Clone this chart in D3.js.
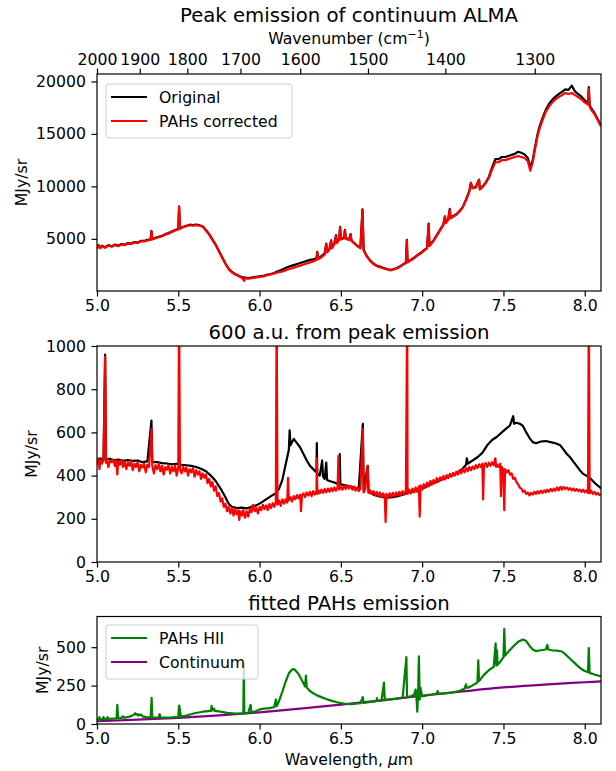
<!DOCTYPE html>
<html><head><meta charset="utf-8">
<script src="https://cdn.jsdelivr.net/npm/d3@7"></script>
<style>body{margin:0;background:#fff}svg{display:block}text{font-family:"DejaVu Sans",sans-serif;fill:#000}</style>
</head><body><svg id="c" width="616" height="771"></svg>
<script>
// ---------- DATA (wavelength µm, MJy/sr) ----------
const xTicks=[5.0,5.5,6.0,6.5,7.0,7.5,8.0];
const wavenumberTicks=[2000,1900,1800,1700,1600,1500,1400,1300];
const y1Ticks=[5000,10000,15000,20000];
const y2Ticks=[0,200,400,600,800,1000];
const y3Ticks=[0,250,500];
const titles=["Peak emission of continuum ALMA","600 a.u. from peak emission","fitted PAHs emission"];
const legend1=["Original","PAHs corrected"];
const legend3=["PAHs HII","Continuum"];

const original1=[[5.00,4100],[5.01,4400],[5.02,4150],[5.03,4350],[5.05,4200],[5.07,4400],[5.09,4300],[5.11,4450],[5.13,4350],[5.15,4500],[5.17,4450],[5.19,4600],[5.21,4550],[5.23,4700],[5.25,4650],[5.27,4800],[5.29,4800],[5.31,4900],[5.33,4950],[5.335,5750],[5.34,5000],[5.36,5100],[5.38,5200],[5.40,5300],[5.42,5450],[5.44,5550],[5.46,5700],[5.48,5850],[5.50,5950],[5.505,8100],[5.51,6000],[5.53,6150],[5.55,6250],[5.57,6350],[5.59,6300],[5.61,6350],[5.63,6300],[5.65,6200],[5.67,5850],[5.69,5450],[5.71,4950],[5.73,4450],[5.75,3850],[5.77,3250],[5.79,2650],[5.81,2150],[5.83,1850],[5.85,1650],[5.87,1500],[5.89,1350],[5.91,1300],[5.93,1250],[5.95,1300],[5.97,1350],[5.99,1400],[6.01,1450],[6.03,1500],[6.05,1600],[6.07,1650],[6.09,1750],[6.11,1900],[6.13,2000],[6.15,2150],[6.17,2300],[6.19,2400],[6.21,2500],[6.23,2600],[6.25,2700],[6.27,2800],[6.29,2900],[6.31,3000],[6.33,3050],[6.35,3150],[6.355,3750],[6.36,3150],[6.38,3350],[6.40,3600],[6.41,4550],[6.415,3750],[6.43,4050],[6.44,4850],[6.445,4150],[6.46,4550],[6.47,5350],[6.475,4650],[6.49,4950],[6.495,6150],[6.50,5000],[6.52,5100],[6.525,5850],[6.53,5050],[6.55,4950],[6.56,5450],[6.565,4850],[6.58,4650],[6.60,4350],[6.62,4150],[6.633,7800],[6.64,3950],[6.66,3350],[6.68,2950],[6.70,2650],[6.72,2450],[6.74,2350],[6.76,2250],[6.78,2150],[6.80,2050],[6.82,2100],[6.84,2200],[6.86,2350],[6.88,2550],[6.90,2750],[6.906,4900],[6.91,2800],[6.93,3000],[6.95,3200],[6.97,3450],[6.99,3650],[7.01,3900],[7.03,4150],[7.04,6450],[7.045,4350],[7.07,4850],[7.09,5350],[7.11,5850],[7.13,6350],[7.14,7150],[7.145,6550],[7.16,6850],[7.17,7850],[7.175,7000],[7.19,7150],[7.21,7350],[7.23,7650],[7.25,8050],[7.27,8750],[7.29,9550],[7.30,10350],[7.31,9850],[7.33,9950],[7.35,10650],[7.355,9750],[7.37,9950],[7.39,10350],[7.41,10900],[7.43,11800],[7.45,12600],[7.47,12600],[7.49,12800],[7.51,12800],[7.53,12900],[7.55,13000],[7.57,13100],[7.59,13300],[7.61,13200],[7.63,13050],[7.65,12700],[7.665,11800],[7.68,12500],[7.69,13400],[7.70,14200],[7.71,15000],[7.72,15600],[7.74,16500],[7.76,17300],[7.78,17850],[7.80,18250],[7.82,18550],[7.84,18800],[7.86,19000],[7.88,19250],[7.90,19200],[7.92,19600],[7.94,19050],[7.96,18800],[7.98,18550],[8.00,18200],[8.02,17950],[8.025,19450],[8.03,17750],[8.04,17450],[8.06,17000],[8.08,16400],[8.10,15800]];
const corrected1=[[5.00,4050],[5.01,4350],[5.02,4100],[5.03,4300],[5.05,4150],[5.07,4350],[5.09,4250],[5.11,4400],[5.13,4300],[5.15,4450],[5.17,4400],[5.19,4550],[5.21,4500],[5.23,4650],[5.25,4600],[5.27,4750],[5.29,4750],[5.31,4850],[5.33,4900],[5.335,5700],[5.34,4950],[5.36,5050],[5.38,5150],[5.40,5250],[5.42,5400],[5.44,5500],[5.46,5650],[5.48,5800],[5.50,5900],[5.505,8050],[5.51,5950],[5.53,6100],[5.55,6200],[5.57,6300],[5.59,6250],[5.61,6300],[5.63,6250],[5.65,6150],[5.67,5800],[5.69,5400],[5.71,4900],[5.73,4400],[5.75,3800],[5.77,3200],[5.79,2600],[5.81,2100],[5.83,1800],[5.85,1600],[5.87,1450],[5.89,1300],[5.905,1000],[5.91,1250],[5.93,1200],[5.95,1250],[5.97,1300],[5.99,1350],[6.01,1400],[6.03,1450],[6.05,1550],[6.07,1600],[6.09,1700],[6.11,1800],[6.13,1850],[6.15,1950],[6.17,2050],[6.19,2150],[6.21,2250],[6.23,2350],[6.25,2450],[6.27,2550],[6.29,2650],[6.31,2750],[6.33,2850],[6.35,3000],[6.355,3700],[6.36,3050],[6.38,3250],[6.40,3500],[6.41,4500],[6.415,3700],[6.43,4000],[6.44,4800],[6.445,4100],[6.46,4500],[6.47,5300],[6.475,4600],[6.49,4900],[6.495,6100],[6.50,4950],[6.52,5050],[6.525,5800],[6.53,5000],[6.55,4900],[6.56,5400],[6.565,4800],[6.58,4600],[6.60,4300],[6.62,4100],[6.633,7700],[6.64,3900],[6.66,3300],[6.68,2900],[6.70,2600],[6.72,2400],[6.74,2300],[6.76,2200],[6.78,2100],[6.80,2000],[6.82,2050],[6.84,2150],[6.86,2300],[6.88,2500],[6.90,2700],[6.906,4850],[6.91,2750],[6.93,2950],[6.95,3150],[6.97,3400],[6.99,3600],[7.01,3850],[7.03,4100],[7.04,6400],[7.045,4300],[7.07,4800],[7.09,5300],[7.11,5800],[7.13,6300],[7.14,7100],[7.145,6500],[7.16,6800],[7.17,7800],[7.175,6950],[7.19,7100],[7.21,7300],[7.23,7600],[7.25,8000],[7.27,8700],[7.29,9500],[7.30,10300],[7.31,9800],[7.33,9900],[7.35,10600],[7.355,9700],[7.37,9900],[7.39,10300],[7.41,10800],[7.43,11600],[7.45,12300],[7.47,12300],[7.49,12500],[7.51,12500],[7.53,12600],[7.55,12700],[7.57,12800],[7.59,12900],[7.61,12800],[7.63,12700],[7.65,12400],[7.665,11500],[7.68,12300],[7.69,13200],[7.70,14000],[7.71,14800],[7.72,15400],[7.74,16300],[7.76,17100],[7.78,17600],[7.80,18000],[7.82,18300],[7.84,18500],[7.86,18700],[7.88,18900],[7.90,18800],[7.92,18900],[7.94,18700],[7.96,18500],[7.98,18300],[8.00,18000],[8.02,17800],[8.025,19300],[8.03,17600],[8.04,17300],[8.06,16900],[8.08,16300],[8.10,15700]];

const original2=[[5.00,465],[5.02,480],[5.04,470],[5.05,960],[5.055,475],[5.08,478],[5.10,470],[5.13,474],[5.16,468],[5.19,472],[5.22,468],[5.25,470],[5.28,462],[5.31,466],[5.335,655],[5.34,462],[5.37,462],[5.40,458],[5.43,456],[5.46,452],[5.49,455],[5.52,450],[5.55,448],[5.58,445],[5.61,440],[5.64,432],[5.67,420],[5.70,400],[5.73,375],[5.76,340],[5.79,300],[5.81,270],[5.83,255],[5.86,250],[5.89,252],[5.92,248],[5.95,255],[5.98,262],[6.01,275],[6.04,290],[6.07,305],[6.10,318],[6.12,340],[6.14,380],[6.16,450],[6.18,520],[6.185,610],[6.19,540],[6.21,570],[6.23,550],[6.25,530],[6.27,500],[6.29,470],[6.31,445],[6.33,430],[6.35,415],[6.352,550],[6.355,410],[6.37,400],[6.385,470],[6.39,395],[6.40,385],[6.41,460],[6.415,380],[6.43,375],[6.45,370],[6.47,365],[6.49,360],[6.493,500],[6.497,360],[6.52,356],[6.55,350],[6.58,345],[6.61,340],[6.635,640],[6.64,335],[6.665,445],[6.67,325],[6.70,312],[6.73,305],[6.76,300],[6.79,298],[6.82,300],[6.85,305],[6.88,312],[6.91,320],[6.94,325],[6.97,332],[7.00,340],[7.03,350],[7.06,362],[7.09,372],[7.12,382],[7.15,392],[7.18,400],[7.21,410],[7.24,425],[7.27,450],[7.275,480],[7.28,455],[7.31,470],[7.34,485],[7.37,505],[7.40,540],[7.43,565],[7.46,580],[7.49,600],[7.52,620],[7.54,632],[7.56,675],[7.565,640],[7.58,645],[7.60,640],[7.62,630],[7.64,600],[7.66,575],[7.68,555],[7.70,550],[7.73,558],[7.76,560],[7.79,555],[7.82,550],[7.85,540],[7.87,520],[7.89,500],[7.91,485],[7.93,465],[7.95,445],[7.97,425],[7.99,408],[8.01,400],[8.03,390],[8.05,375],[8.07,360],[8.09,348],[8.10,340]];
const corrected2=[[5.00,450],[5.01,480],[5.015,430],[5.02,470],[5.03,455],[5.04,478],[5.05,950],[5.055,460],[5.06,480],[5.07,440],[5.08,470],[5.09,462],[5.10,475],[5.11,445],[5.12,468],[5.125,405],[5.13,465],[5.14,450],[5.15,472],[5.16,440],[5.17,465],[5.18,430],[5.19,460],[5.20,445],[5.21,468],[5.22,425],[5.23,455],[5.24,440],[5.25,462],[5.26,420],[5.27,450],[5.28,438],[5.29,455],[5.30,415],[5.31,450],[5.32,440],[5.335,615],[5.34,445],[5.35,410],[5.36,448],[5.37,430],[5.38,455],[5.39,420],[5.40,445],[5.41,405],[5.42,440],[5.43,428],[5.44,448],[5.45,410],[5.46,440],[5.47,420],[5.48,445],[5.49,400],[5.50,440],[5.505,1200],[5.51,430],[5.52,410],[5.53,440],[5.54,420],[5.55,438],[5.56,400],[5.57,430],[5.58,415],[5.59,435],[5.60,395],[5.61,425],[5.62,405],[5.63,420],[5.64,385],[5.65,410],[5.66,390],[5.67,405],[5.68,365],[5.69,385],[5.70,350],[5.71,370],[5.72,330],[5.73,350],[5.74,305],[5.75,320],[5.76,280],[5.77,295],[5.78,255],[5.79,270],[5.80,235],[5.81,255],[5.82,225],[5.83,250],[5.84,215],[5.85,245],[5.86,220],[5.87,240],[5.875,195],[5.88,235],[5.89,215],[5.90,240],[5.91,205],[5.92,235],[5.93,210],[5.94,245],[5.95,230],[5.96,265],[5.97,235],[5.98,250],[5.99,225],[6.00,255],[6.01,240],[6.02,265],[6.03,245],[6.04,262],[6.05,240],[6.06,268],[6.07,250],[6.08,272],[6.09,255],[6.10,278],[6.105,1200],[6.11,265],[6.12,285],[6.13,260],[6.14,290],[6.15,270],[6.16,290],[6.17,275],[6.175,390],[6.18,285],[6.19,300],[6.20,280],[6.21,305],[6.22,290],[6.23,310],[6.24,295],[6.25,312],[6.255,235],[6.26,305],[6.27,318],[6.28,300],[6.29,322],[6.30,308],[6.31,325],[6.32,305],[6.33,328],[6.34,312],[6.35,330],[6.352,480],[6.355,315],[6.36,332],[6.37,318],[6.38,335],[6.39,320],[6.40,338],[6.41,322],[6.42,340],[6.43,325],[6.44,342],[6.45,328],[6.46,345],[6.47,330],[6.48,348],[6.485,490],[6.49,335],[6.50,350],[6.51,335],[6.52,352],[6.53,338],[6.54,355],[6.55,340],[6.56,352],[6.57,335],[6.58,350],[6.59,330],[6.60,345],[6.61,328],[6.62,340],[6.635,615],[6.64,322],[6.65,338],[6.665,445],[6.67,320],[6.68,332],[6.69,315],[6.70,328],[6.71,310],[6.72,325],[6.73,305],[6.74,322],[6.75,300],[6.76,318],[6.77,302],[6.775,185],[6.78,315],[6.79,300],[6.80,318],[6.81,302],[6.82,320],[6.83,305],[6.84,322],[6.85,308],[6.86,325],[6.87,310],[6.88,328],[6.89,312],[6.90,330],[6.908,1200],[6.91,315],[6.92,335],[6.93,318],[6.94,340],[6.95,322],[6.96,345],[6.97,325],[6.98,350],[6.985,210],[6.99,355],[7.00,335],[7.01,360],[7.02,345],[7.03,368],[7.04,350],[7.05,375],[7.06,358],[7.07,380],[7.08,365],[7.09,388],[7.10,372],[7.11,392],[7.12,378],[7.13,398],[7.14,382],[7.15,402],[7.16,388],[7.17,408],[7.18,395],[7.19,412],[7.20,400],[7.21,418],[7.22,405],[7.23,425],[7.24,410],[7.25,430],[7.26,415],[7.27,435],[7.28,420],[7.29,440],[7.30,425],[7.31,442],[7.32,430],[7.33,448],[7.34,435],[7.35,452],[7.36,440],[7.37,455],[7.375,290],[7.38,445],[7.39,458],[7.40,440],[7.41,460],[7.42,445],[7.43,462],[7.44,448],[7.45,480],[7.455,440],[7.46,452],[7.47,440],[7.48,455],[7.485,305],[7.49,440],[7.50,425],[7.505,240],[7.51,430],[7.52,415],[7.53,425],[7.54,405],[7.55,410],[7.56,385],[7.57,390],[7.58,370],[7.59,360],[7.60,345],[7.61,340],[7.62,325],[7.63,330],[7.64,315],[7.65,322],[7.66,308],[7.67,320],[7.68,312],[7.69,325],[7.70,315],[7.71,328],[7.72,318],[7.73,330],[7.74,320],[7.75,332],[7.76,322],[7.77,335],[7.78,325],[7.79,338],[7.80,328],[7.81,340],[7.82,330],[7.83,345],[7.84,332],[7.85,348],[7.86,335],[7.87,348],[7.88,338],[7.89,345],[7.90,335],[7.91,342],[7.92,332],[7.93,340],[7.94,330],[7.95,338],[7.96,328],[7.97,335],[7.98,325],[7.99,335],[8.00,322],[8.01,332],[8.02,320],[8.025,1200],[8.03,318],[8.04,330],[8.05,315],[8.06,325],[8.07,312],[8.08,320],[8.09,310],[8.10,315]];

const pahsHII=[[5.00,28],[5.01,30],[5.015,45],[5.02,30],[5.035,32],[5.04,45],[5.045,32],[5.06,33],[5.065,45],[5.07,33],[5.10,35],[5.12,36],[5.125,125],[5.13,38],[5.15,40],[5.16,50],[5.165,40],[5.20,48],[5.22,55],[5.235,70],[5.24,60],[5.25,65],[5.255,55],[5.27,62],[5.28,50],[5.30,45],[5.33,44],[5.336,170],[5.34,44],[5.36,42],[5.38,44],[5.385,65],[5.39,44],[5.42,42],[5.46,43],[5.50,46],[5.505,120],[5.51,95],[5.515,48],[5.55,55],[5.60,70],[5.65,80],[5.70,85],[5.705,118],[5.71,88],[5.72,100],[5.725,85],[5.75,82],[5.80,72],[5.85,68],[5.90,70],[5.903,395],[5.906,70],[5.93,72],[5.945,125],[5.95,75],[5.98,85],[6.00,95],[6.03,100],[6.06,103],[6.09,110],[6.10,160],[6.105,115],[6.12,150],[6.14,210],[6.16,275],[6.18,330],[6.20,355],[6.21,358],[6.22,350],[6.24,325],[6.26,285],[6.28,245],[6.285,315],[6.29,238],[6.31,215],[6.33,200],[6.35,188],[6.38,175],[6.41,163],[6.44,152],[6.47,143],[6.50,136],[6.53,132],[6.56,130],[6.59,132],[6.62,135],[6.635,175],[6.64,138],[6.67,142],[6.70,145],[6.72,150],[6.722,168],[6.725,150],[6.75,152],[6.765,270],[6.77,155],[6.80,160],[6.83,163],[6.86,168],[6.88,172],[6.903,435],[6.907,175],[6.93,180],[6.95,190],[6.96,225],[6.965,170],[6.97,80],[6.975,200],[6.98,440],[6.985,160],[6.99,235],[7.00,180],[7.03,188],[7.06,192],[7.09,198],[7.095,215],[7.10,198],[7.14,200],[7.18,205],[7.22,212],[7.26,230],[7.27,258],[7.275,235],[7.30,245],[7.34,270],[7.345,415],[7.35,280],[7.38,320],[7.41,350],[7.44,372],[7.452,525],[7.456,380],[7.46,480],[7.464,385],[7.48,405],[7.50,435],[7.505,620],[7.51,445],[7.53,470],[7.56,505],[7.59,535],[7.62,550],[7.64,540],[7.66,510],[7.68,485],[7.70,475],[7.73,480],[7.76,485],[7.77,515],[7.775,485],[7.80,480],[7.83,478],[7.86,472],[7.88,455],[7.90,435],[7.92,415],[7.94,395],[7.96,375],[7.98,358],[8.00,345],[8.02,338],[8.025,495],[8.03,333],[8.06,322],[8.10,310]];
const continuum=[[5.0,18],[5.25,28],[5.5,40],[5.75,56],[6.0,76],[6.25,100],[6.5,126],[6.75,154],[7.0,184],[7.25,212],[7.5,238],[7.75,257],[8.0,272],[8.1,278]];

// ---------- DRAWING ----------
const svg=d3.select('#c');
const FS=15.7, TFS=19.7, TK=5.5, LW=2.2;
const X0=97, X1=601;
const x=d3.scaleLinear().domain([5.0,8.1]).range([X0,X1]);

function styleAxis(g){
  g.selectAll('text').style('font-size',FS+'px').attr('fill','#000');
  g.selectAll('line').attr('stroke','#000').attr('stroke-width',1.2);
  g.select('.domain').remove();
}

function panel(id,top,bottom,yDom,yT,series,title,titleY,ylabelX){
  const y=d3.scaleLinear().domain(yDom).range([bottom,top]);
  const g=svg.append('g');
  g.append('clipPath').attr('id','clip'+id).append('rect')
    .attr('x',X0).attr('y',top).attr('width',X1-X0).attr('height',bottom-top);
  series.forEach(s=>{
    const line=d3.line().x(d=>x(d[0])).y(d=>y(d[1])).curve(s.curve||d3.curveLinear);
    g.append('path').datum(s.data).attr('clip-path','url(#clip'+id+')')
      .attr('d',line)
      .attr('fill','none').attr('stroke',s.color).attr('stroke-width',s.w||LW)
      .attr('stroke-linejoin','round');
  });
  const ax=g.append('g').attr('transform',`translate(0,${bottom})`)
    .call(d3.axisBottom(x).tickValues(xTicks).tickFormat(d3.format('.1f')).tickSize(TK).tickPadding(3.5));
  styleAxis(ax);
  const ay=g.append('g').attr('transform',`translate(${X0},0)`)
    .call(d3.axisLeft(y).tickValues(yT).tickFormat(d3.format('d')).tickSize(TK).tickPadding(TK));
  styleAxis(ay);
  g.append('rect').attr('x',X0).attr('y',top).attr('width',X1-X0).attr('height',bottom-top)
    .attr('fill','none').attr('stroke','#000').attr('stroke-width',1.2);
  g.append('text').attr('x',(X0+X1)/2).attr('y',titleY).attr('text-anchor','middle')
    .style('font-size',TFS+'px').text(title);
  g.append('text').attr('transform',`translate(${ylabelX},${(top+bottom)/2}) rotate(-90)`)
    .attr('text-anchor','middle').style('font-size',FS+'px').text('MJy/sr');
  return {g,y};
}

function legend(g,x0,y0,w,h,items){
  const lg=g.append('g');
  lg.append('rect').attr('x',x0).attr('y',y0).attr('width',w).attr('height',h).attr('rx',3)
    .attr('fill','#fff').attr('fill-opacity',0.8).attr('stroke','#cccccc').attr('stroke-width',1);
  items.forEach((it,i)=>{
    const cy=y0+13+i*24;
    lg.append('line').attr('x1',x0+5).attr('x2',x0+41).attr('y1',cy).attr('y2',cy)
      .attr('stroke',it.color).attr('stroke-width',LW);
    lg.append('text').attr('x',x0+53).attr('y',cy+5.5).style('font-size',FS+'px').text(it.label);
  });
}

// Panel 1
const p1=panel(1,74,291,[30,20710],y1Ticks,
  [{data:original1,color:'#000'},{data:corrected1,color:'#ff0000'}],titles[0],21.5,27);
const at=p1.g.append('g').attr('transform','translate(0,74)')
  .call(d3.axisTop(x).tickValues(wavenumberTicks.map(n=>1e4/n))
    .tickFormat(d=>d3.format('d')(Math.round(1e4/d))).tickSize(TK).tickPadding(4));
styleAxis(at);
const wl=p1.g.append('text').attr('x',(X0+X1)/2).attr('y',44).attr('text-anchor','middle').style('font-size',FS+'px');
wl.append('tspan').text('Wavenumber (cm');
wl.append('tspan').attr('dy',-6).style('font-size','11px').text('\u22121');
wl.append('tspan').attr('dy',6).text(')');
legend(p1.g,106,84,186,54,[{label:legend1[0],color:'#000'},{label:legend1[1],color:'#ff0000'}]);

// Panel 2
panel(2,346,562,[0,1000],y2Ticks,
  [{data:original2,color:'#000'},{data:corrected2,color:'#ff0000'}],titles[1],338.5,37);

// Panel 3
const p3=panel(3,616.5,724,[0,700],y3Ticks,
  [{data:continuum,color:'#800080',curve:d3.curveMonotoneX},{data:pahsHII,color:'#008000'}],titles[2],609.5,48);
legend(p3.g,106,625,152,54,[{label:legend3[0],color:'#008000'},{label:legend3[1],color:'#800080'}]);
const xl=p3.g.append('text').attr('x',(X0+X1)/2).attr('y',765).attr('text-anchor','middle').style('font-size',FS+'px');
xl.append('tspan').text('Wavelength, ');
xl.append('tspan').style('font-style','italic').text('\u03bc');
xl.append('tspan').text('m');
</script></body></html>
